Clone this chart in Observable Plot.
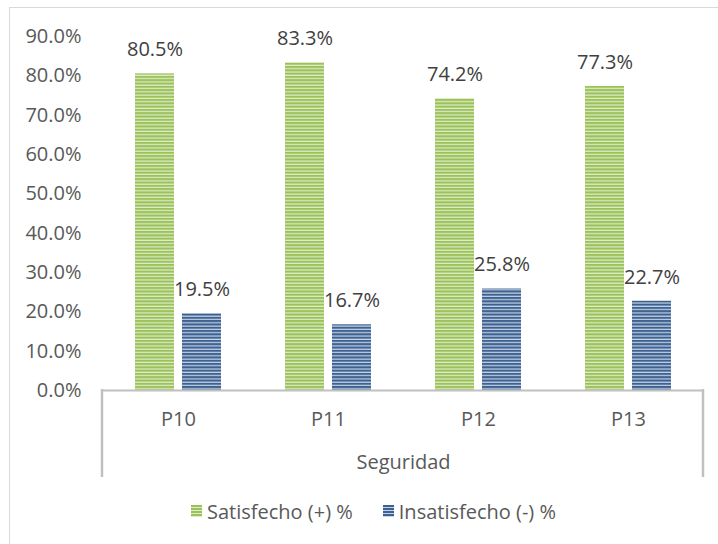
<!DOCTYPE html>
<html>
<head>
<meta charset="utf-8">
<script src="https://cdn.jsdelivr.net/npm/d3@7"></script>
<script src="https://cdn.jsdelivr.net/npm/@observablehq/plot@0.6"></script>
<style>
  html, body { margin: 0; padding: 0; background: #fff; }
  #wrap { position: relative; width: 718px; height: 544px; overflow: hidden; font-family: "Open Sans", sans-serif; }
  #border { position: absolute; left: 9px; top: 7px; width: 740px; height: 560px; border: 1px solid #d9d9d9; pointer-events: none; z-index: 2; }
  #legend { display: flex; align-items: center; margin-top: 10px; padding-left: 191px; height: 22px; font-size: 20px; color: #595959; }
  #legend .item { display: flex; align-items: center; margin-right: 30px; }
  #legend .sw { width: 11px; height: 12px; margin-right: 5px; }
</style>
</head>
<body>
<div id="wrap">
  <div id="border"></div>
  <div id="chart"></div>
  <div id="legend"></div>
</div>
<script>
// Survey results for the "Seguridad" block of questions
const categories = ["P10", "P11", "P12", "P13"];
const satisfecho = [80.5, 83.3, 74.2, 77.3];
const insatisfecho = [19.5, 16.7, 25.8, 22.7];
const yTicks = [0, 10, 20, 30, 40, 50, 60, 70, 80, 90];
const groupLabel = "Seguridad";
const seriesNames = ["Satisfecho (+) %", "Insatisfecho (-) %"];

const rows = categories.map((c, i) => ({category: c, satisfecho: satisfecho[i], insatisfecho: insatisfecho[i]}));
const pct = v => v.toFixed(1) + "%";

// striped fills for the two series
const palette = {
  green: {dark: "#9bc25a", light: "#dfecc9"},
  blue: {dark: "#3d6190", light: "#c6d3e6"}
};

const chart = Plot.plot({
  width: 718,
  height: 490,
  marginLeft: 103,
  marginRight: 15,
  marginTop: 36,
  marginBottom: 100,
  style: {fontFamily: "Open Sans, sans-serif", fontSize: "20px", color: "#595959", background: "transparent"},
  x: {domain: categories, padding: 0, axis: null},
  y: {domain: [0, 90], ticks: yTicks, tickFormat: pct, tickSize: 0, tickPadding: 22, label: null},
  marks: [
    Plot.barY(rows, {x: "category", y: "satisfecho", fill: "url(#stripe-green)", insetLeft: 32, insetRight: 79}),
    Plot.barY(rows, {x: "category", y: "insatisfecho", fill: "url(#stripe-blue)", insetLeft: 79, insetRight: 32}),
    Plot.text(rows, {x: "category", y: "satisfecho", text: d => pct(d.satisfecho), dx: -23.5, dy: -24, fill: "#404040"}),
    Plot.text(rows, {x: "category", y: "insatisfecho", text: d => pct(d.insatisfecho), dx: 23.5, dy: -24, fill: "#404040"}),
    Plot.ruleY([0], {stroke: "#c0c0c0", strokeWidth: 2}),
    Plot.text(categories, {x: d => d, frameAnchor: "bottom", dy: 35, fill: "#595959"}),
    Plot.text([groupLabel], {frameAnchor: "bottom", dy: 78, fill: "#595959"})
  ]
});

const svg = d3.select(chart);
const defs = svg.insert("defs", ":first-child");
for (const [name, c] of Object.entries(palette)) {
  const p = defs.append("pattern")
    .attr("id", "stripe-" + name)
    .attr("patternUnits", "userSpaceOnUse")
    .attr("width", 8).attr("height", 3.3);
  p.append("rect").attr("width", 8).attr("height", 3.3).attr("fill", c.dark);
  p.append("rect").attr("y", 2.1).attr("width", 8).attr("height", 1.2).attr("fill", c.light);
}

// side brackets of the category axis, taken from the scales
const xs = chart.scale("x").range;
const y0 = chart.scale("y").apply(0);
for (const x of [xs[0] - 1, xs[1]]) {
  svg.append("line")
    .attr("x1", x).attr("x2", x)
    .attr("y1", y0 - 1).attr("y2", y0 + 87)
    .attr("stroke", "#c0c0c0").attr("stroke-width", 2.5);
}

document.getElementById("chart").appendChild(chart);

const legend = d3.select("#legend");
seriesNames.forEach((name, i) => {
  const c = i === 0 ? palette.green : palette.blue;
  const item = legend.append("div").attr("class", "item");
  item.append("div").attr("class", "sw")
    .style("background", `repeating-linear-gradient(to bottom, ${c.dark} 0px, ${c.dark} 2px, ${c.light} 2px, ${c.light} 3px)`);
  item.append("span").text(name);
});
</script>
</body>
</html>
